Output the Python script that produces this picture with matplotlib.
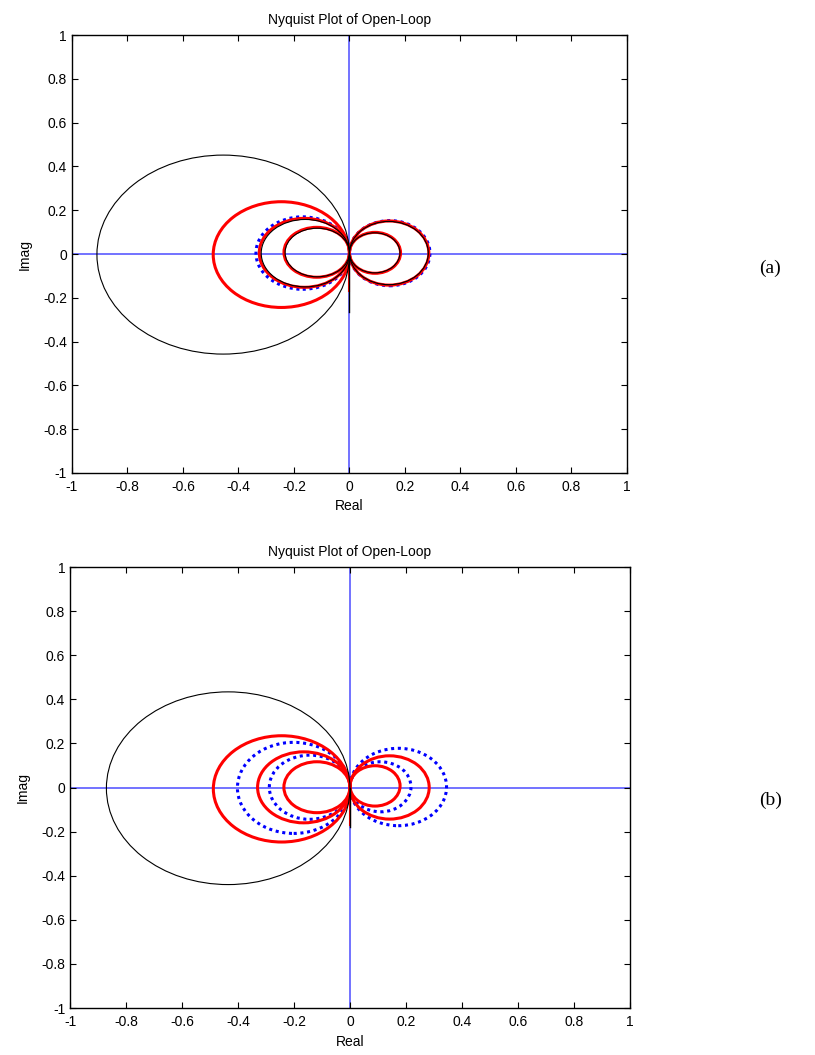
import matplotlib.pyplot as plt
from matplotlib.patches import Ellipse

plt.rcParams['font.family'] = ['Liberation Sans', 'DejaVu Sans']

# loops: (x_min, x_max, y_max, y_min)
a_black = [(-0.91, 0.0, 0.452, -0.457), (-0.318, 0.0, 0.158, -0.150),
           (-0.232, 0.0, 0.118, -0.104), (0.0, 0.284, 0.149, -0.140),
           (0.0, 0.182, 0.097, -0.086)]
a_red = [(-0.491, 0.0, 0.239, -0.244), (-0.325, 0.0, 0.163, -0.152),
         (-0.236, 0.0, 0.122, -0.106), (0.0, 0.286, 0.151, -0.142),
         (0.0, 0.184, 0.099, -0.088)]
a_blue = [(-0.337, 0.0, 0.170, -0.161), (0.0, 0.29, 0.153, -0.145)]
a_stub = [-0.263, -0.17]   # black, red tail on the imaginary axis

b_black = [(-0.87, 0.0, 0.434, -0.44)]
b_red = [(-0.488, 0.0, 0.235, -0.247), (-0.330, 0.0, 0.162, -0.160),
         (-0.236, 0.0, 0.117, -0.114), (0.0, 0.283, 0.144, -0.143),
         (0.0, 0.179, 0.099, -0.084)]
b_blue = [(-0.402, 0.0, 0.205, -0.208), (-0.288, 0.0, 0.147, -0.144),
          (0.0, 0.345, 0.178, -0.173), (0.0, 0.218, 0.117, -0.110)]
b_stub = [-0.178, -0.17]

ticks = [-1, -0.8, -0.6, -0.4, -0.2, 0, 0.2, 0.4, 0.6, 0.8, 1]
tick_labels = ['-1', '-0.8', '-0.6', '-0.4', '-0.2', '0', '0.2', '0.4', '0.6', '0.8', '1']


def add_loops(ax, loops, **kw):
    for x0, x1, y1, y0 in loops:
        ax.add_patch(Ellipse(((x0 + x1) / 2, (y0 + y1) / 2), x1 - x0, y1 - y0,
                             fill=False, **kw))


def panel(ax, black, red, blue, stub):
    ax.axhline(0, color='#5a5aff', lw=1.2, zorder=1)
    ax.axvline(0, color='#5a5aff', lw=1.2, zorder=1)
    add_loops(ax, blue, edgecolor='#0000ff', lw=2.2, linestyle=(0, (1, 1.2)), zorder=2)
    add_loops(ax, red, edgecolor='#ff0000', lw=2.2, zorder=3)
    add_loops(ax, black, edgecolor='black', lw=0.8, zorder=4)
    ax.plot([0, 0], [0, stub[1]], color='#ff0000', lw=1.5, zorder=3)
    ax.plot([0, 0], [0, stub[0]], color='black', lw=1.0, zorder=4)
    ax.set_xlim(-1, 1)
    ax.set_ylim(-1, 1)
    ax.set_xticks(ticks)
    ax.set_xticklabels(tick_labels)
    ax.set_yticks(ticks)
    ax.set_yticklabels(tick_labels)
    ax.tick_params(direction='in', top=True, right=True, labelsize=10, length=4, width=0.8)
    ax.tick_params(axis='x', pad=5)
    for s in ax.spines.values():
        s.set_linewidth(1.0)
    ax.set_title('Nyquist Plot of Open-Loop', fontsize=10, pad=8)
    ax.set_xlabel('Real', fontsize=10, labelpad=4)
    ax.set_ylabel('Imag', fontsize=10, labelpad=8)


fig = plt.figure(figsize=(8.15, 10.55), dpi=100)
ax1 = fig.add_axes([0.0883, 0.5517, 0.681, 0.415])
ax2 = fig.add_axes([0.0859, 0.0445, 0.687, 0.418])
panel(ax1, a_black, a_red, a_blue, a_stub)
panel(ax2, b_black, b_red, b_blue, b_stub)

fig.text(0.945, 0.746, '(a)', fontsize=14, family='Liberation Serif', ha='center', va='center')
fig.text(0.945, 0.241, '(b)', fontsize=14, family='Liberation Serif', ha='center', va='center')

plt.savefig('out.png', dpi=100)
